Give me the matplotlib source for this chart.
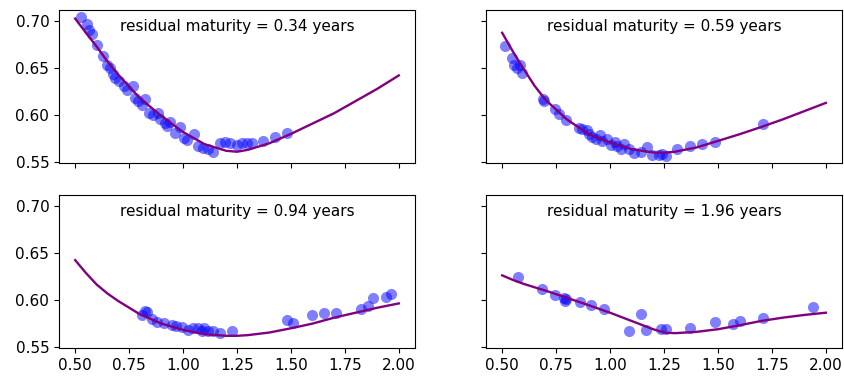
"""
Implied volatility smiles for four residual maturities:
market quotes (scatter) against the fitted smile (line).
"""

import matplotlib.pyplot as plt

# ---------------------------------------------------------------------------
# data
# ---------------------------------------------------------------------------
maturities = [0.34, 0.59, 0.94, 1.96]

strikes_1 = [0.526, 0.554, 0.566, 0.577, 0.600, 0.631, 0.647, 0.662, 0.674, 0.686,
             0.705, 0.724, 0.742, 0.767, 0.778, 0.793, 0.809, 0.824, 0.840, 0.863,
             0.886, 0.894, 0.917, 0.924, 0.940, 0.963, 0.986, 1.005, 1.017, 1.051,
             1.071, 1.094, 1.117, 1.140, 1.171, 1.194, 1.218, 1.248, 1.272, 1.295,
             1.318, 1.369, 1.426, 1.483]
vols_1 = [0.7046, 0.6968, 0.6910, 0.6860, 0.6750, 0.6630, 0.6535, 0.6500, 0.6440, 0.6400,
          0.6360, 0.6310, 0.6270, 0.6310, 0.6180, 0.6150, 0.6110, 0.6170, 0.6020, 0.6000,
          0.6020, 0.5960, 0.5920, 0.5880, 0.5930, 0.5810, 0.5870, 0.5760, 0.5730, 0.5800,
          0.5670, 0.5655, 0.5640, 0.5610, 0.5700, 0.5710, 0.5700, 0.5680, 0.5700, 0.5700,
          0.5700, 0.5725, 0.5768, 0.5810]

strikes_2 = [0.515, 0.546, 0.557, 0.570, 0.585, 0.593, 0.690, 0.696, 0.743, 0.763,
             0.798, 0.856, 0.871, 0.891, 0.902, 0.918, 0.933, 0.953, 0.964, 0.984,
             1.003, 1.021, 1.033, 1.049, 1.064, 1.088, 1.111, 1.142, 1.170, 1.196,
             1.227, 1.242, 1.258, 1.312, 1.371, 1.428, 1.485, 1.711]
vols_2 = [0.6740, 0.6606, 0.6535, 0.6500, 0.6535, 0.6454, 0.6176, 0.6155, 0.6060, 0.6007,
          0.5947, 0.5866, 0.5856, 0.5838, 0.5796, 0.5771, 0.5743, 0.5785, 0.5725, 0.5750,
          0.5680, 0.5715, 0.5670, 0.5637, 0.5690, 0.5637, 0.5600, 0.5610, 0.5660, 0.5580,
          0.5580, 0.5590, 0.5567, 0.5644, 0.5673, 0.5690, 0.5718, 0.5908]

strikes_3 = [0.809, 0.824, 0.835, 0.855, 0.878, 0.912, 0.948, 0.968, 0.994, 1.025,
             1.048, 1.071, 1.086, 1.097, 1.117, 1.140, 1.171, 1.225, 1.483, 1.511,
             1.599, 1.653, 1.708, 1.823, 1.858, 1.881, 1.940, 1.966]
vols_3 = [0.5842, 0.5884, 0.5877, 0.5796, 0.5771, 0.5757, 0.5736, 0.5725, 0.5715, 0.5680,
          0.5700, 0.5708, 0.5673, 0.5700, 0.5673, 0.5673, 0.5655, 0.5673, 0.5789, 0.5761,
          0.5838, 0.5866, 0.5859, 0.5901, 0.5937, 0.6018, 0.6032, 0.6070]

strikes_4 = [0.573, 0.686, 0.744, 0.786, 0.798, 0.789, 0.859, 0.914, 0.972, 1.088,
             1.142, 1.165, 1.235, 1.258, 1.371, 1.485, 1.570, 1.601, 1.711, 1.941]
vols_4 = [0.6247, 0.6123, 0.6053, 0.6025, 0.6007, 0.5990, 0.5982, 0.5947, 0.5901, 0.5673,
          0.5856, 0.5680, 0.5690, 0.5697, 0.5700, 0.5768, 0.5750, 0.5778, 0.5806, 0.5926]

# fitted smile, sampled on a common strike grid
curve_x = [0.50, 0.55, 0.60, 0.65, 0.70, 0.80, 0.90, 1.00, 1.10, 1.20, 1.25,
           1.30, 1.40, 1.50, 1.60, 1.70, 1.80, 1.90, 2.00]
curve_1 = [0.7028, 0.6877, 0.6729, 0.6570, 0.6430, 0.6180, 0.5990, 0.5820, 0.5690, 0.5620,
           0.5610, 0.5630, 0.5700, 0.5800, 0.5910, 0.6020, 0.6150, 0.6280, 0.6423]
curve_2 = [0.6877, 0.6676, 0.6490, 0.6313, 0.6165, 0.5954, 0.5800, 0.5708, 0.5637, 0.5602,
           0.5599, 0.5610, 0.5655, 0.5725, 0.5796, 0.5873, 0.5954, 0.6042, 0.6130]
curve_3 = [0.6426, 0.6289, 0.6165, 0.6070, 0.5990, 0.5849, 0.5750, 0.5683, 0.5637, 0.5620,
           0.5620, 0.5627, 0.5655, 0.5700, 0.5750, 0.5813, 0.5866, 0.5919, 0.5965]
curve_4 = [0.6264, 0.6215, 0.6173, 0.6137, 0.6102, 0.6025, 0.5947, 0.5866, 0.5778, 0.5690,
           0.5655, 0.5648, 0.5662, 0.5690, 0.5732, 0.5778, 0.5813, 0.5842, 0.5866]

x_ticks = [0.50, 0.75, 1.00, 1.25, 1.50, 1.75, 2.00]
y_ticks = [0.55, 0.60, 0.65, 0.70]

panels = [
    (strikes_1, vols_1, curve_1),
    (strikes_2, vols_2, curve_2),
    (strikes_3, vols_3, curve_3),
    (strikes_4, vols_4, curve_4),
]

# ---------------------------------------------------------------------------
# figure
# ---------------------------------------------------------------------------
fig, axes = plt.subplots(2, 2, sharex=True, sharey=True,
                         figsize=(8.44, 3.81), dpi=100)

# axes boxes in figure fractions (left, bottom, width, height)
boxes = [
    (0.0699, 0.5722, 0.4218, 0.4016),
    (0.5758, 0.5722, 0.4218, 0.4016),
    (0.0699, 0.0866, 0.4218, 0.4016),
    (0.5758, 0.0866, 0.4218, 0.4016),
]

for ax, box, mat, (k, v, c) in zip(axes.flat, boxes, maturities, panels):
    ax.set_position(box)
    ax.scatter(k, v, s=64, color='blue', alpha=0.5, linewidths=0, zorder=2)
    ax.plot(curve_x, c, color='purple', linewidth=1.7, zorder=3)
    ax.text(0.5, 0.89, f'residual maturity = {mat:.2f} years',
            transform=ax.transAxes, ha='center', va='center', fontsize=11)
    ax.tick_params(labelsize=11)

axes[0, 0].set_xticks(x_ticks)
axes[0, 0].set_yticks(y_ticks)
axes[0, 0].set_xlim(0.425, 2.075)
axes[0, 0].set_ylim(0.549, 0.712)

plt.savefig('out.png', dpi=100)
